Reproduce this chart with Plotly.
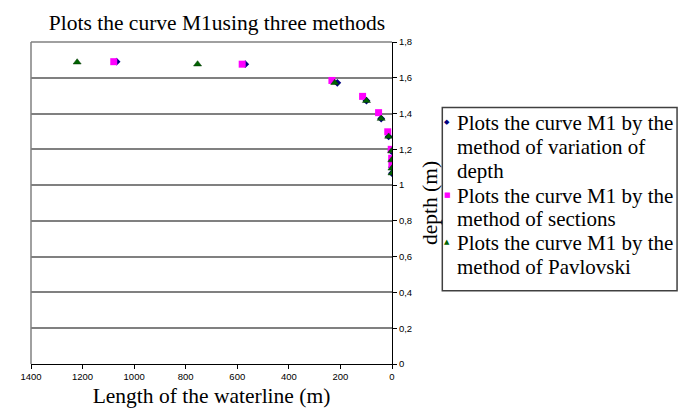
import plotly.graph_objects as go

# ---- data ----
x_var_depth = [1068, 569, 212, 99, 42, 13, 2, 0.8, 0.3, 0.1]
y_var_depth = [1.69, 1.676, 1.572, 1.472, 1.372, 1.272, 1.19, 1.14, 1.10, 1.067]

x_sections = [1079, 581, 233, 114, 52, 16.5, 3, 1.2, 0.5]
y_sections = [1.69, 1.676, 1.585, 1.496, 1.405, 1.298, 1.20, 1.15, 1.113]

x_pavlovski = [1221, 754, 222, 99, 42, 13, 1.5, 0.8, 0.3, 0.1]
y_pavlovski = [1.687, 1.676, 1.572, 1.472, 1.372, 1.272, 1.19, 1.14, 1.094, 1.067]

x_ticks = [1400, 1200, 1000, 800, 600, 400, 200, 0]
y_ticks = [0, 0.2, 0.4, 0.6, 0.8, 1.0, 1.2, 1.4, 1.6, 1.8]
y_tick_labels = ["0", "0,2", "0,4", "0,6", "0,8", "1", "1,2", "1,4", "1,6", "1,8"]

series_names = [
    "Plots the curve M1 by the method of variation of depth",
    "Plots the curve M1 by the method of sections",
    "Plots the curve M1 by the method of Pavlovski",
]
legend_lines = [
    ["Plots the curve M1 by the", "method of variation of", "depth"],
    ["Plots the curve M1 by the", "method of sections"],
    ["Plots the curve M1 by the", "method of Pavlovski"],
]
legend_symbols = ["◆", "■", "▲"]
colors = ["#000080", "#FF00FF", "#006400"]

title_text = "Plots the curve M1using three methods"
x_title = "Length of the waterline (m)"
y_title = "depth (m)"

# ---- layout geometry (page pixels; the page body has an 8px margin) ----
OFF = 8
W, H = 694 - OFF, 415 - OFF
L, R, T, B = 26, 392, 42, 367   # plot area in page pixels


def px(x):
    return (x - L) / (R - L)


def py(y):
    return (B - y) / (B - T)


fig = go.Figure()
fig.add_trace(go.Scatter(
    x=x_var_depth, y=y_var_depth, mode="markers", name=series_names[0],
    marker=dict(symbol="diamond", size=6, color=colors[0]),
))
fig.add_trace(go.Scatter(
    x=x_sections, y=y_sections, mode="markers", name=series_names[1],
    marker=dict(symbol="square", size=7, color=colors[1]),
))
fig.add_trace(go.Scatter(
    x=x_pavlovski, y=y_pavlovski, mode="markers", name=series_names[2],
    marker=dict(symbol="triangle-up", size=7, color=colors[2],
                line=dict(color="#003300", width=0.5)),
))

serif = "Liberation Serif, Times New Roman, serif"
sans = "Liberation Sans, Arial, sans-serif"

fig.update_layout(
    width=W, height=H,
    margin=dict(l=L - OFF, r=694 - R, t=T - OFF, b=415 - B, pad=0),
    paper_bgcolor="white", plot_bgcolor="white",
    showlegend=False,
    title=dict(text=title_text, font=dict(family=serif, size=21.5, color="black"),
               x=px(214.5), xref="paper", xanchor="center",
               y=1 - (22 - OFF) / H, yref="container", yanchor="middle"),
    xaxis=dict(
        range=[1400, 0], tickvals=x_ticks, showgrid=False, zeroline=False,
        showline=True, linecolor="black", linewidth=1,
        ticks="outside", ticklen=4, tickcolor="black",
        tickfont=dict(family=sans, size=9.5, color="black"),
        title=dict(text=x_title, font=dict(family=serif, size=21.5, color="black"), standoff=6),
    ),
    yaxis=dict(
        range=[0, 1.8], side="right", tickvals=y_ticks, ticktext=y_tick_labels,
        showgrid=True, gridcolor="#808080", gridwidth=1.5, zeroline=False,
        showline=True, linecolor="black", linewidth=1,
        ticks="outside", ticklen=4, tickcolor="black",
        tickfont=dict(family=sans, size=9.5, color="black"),
        title=dict(text=y_title, font=dict(family=serif, size=21.5, color="black"), standoff=10),
    ),
)

# plot-area border (left and top, gray)
fig.add_shape(type="line", xref="paper", yref="paper", x0=0, x1=0, y0=0, y1=1,
              line=dict(color="#808080", width=1.5))
fig.add_shape(type="line", xref="paper", yref="paper", x0=0, x1=1, y0=1, y1=1,
              line=dict(color="#808080", width=1.5))

# legend box drawn by hand to match the original layout
fig.add_shape(type="rect", xref="paper", yref="paper",
              x0=px(443), x1=px(681), y0=py(293), y1=py(108),
              line=dict(color="#404040", width=1.5), fillcolor="rgba(0,0,0,0)")

line_y = [124, 148, 172, 197, 221, 245, 269]
k = 0
for i, lines in enumerate(legend_lines):
    fig.add_annotation(
        x=px(448), y=py(line_y[k] - 1), xref="paper", yref="paper",
        text=legend_symbols[i], showarrow=False, xanchor="center", yanchor="middle",
        font=dict(family="DejaVu Sans", size=7, color=colors[i]),
    )
    for ln in lines:
        fig.add_annotation(
            x=px(456), y=py(line_y[k]), xref="paper", yref="paper",
            text=ln, showarrow=False, xanchor="left", yanchor="middle",
            font=dict(family=serif, size=21, color="black"),
        )
        k += 1

fig.write_html("out.html")
